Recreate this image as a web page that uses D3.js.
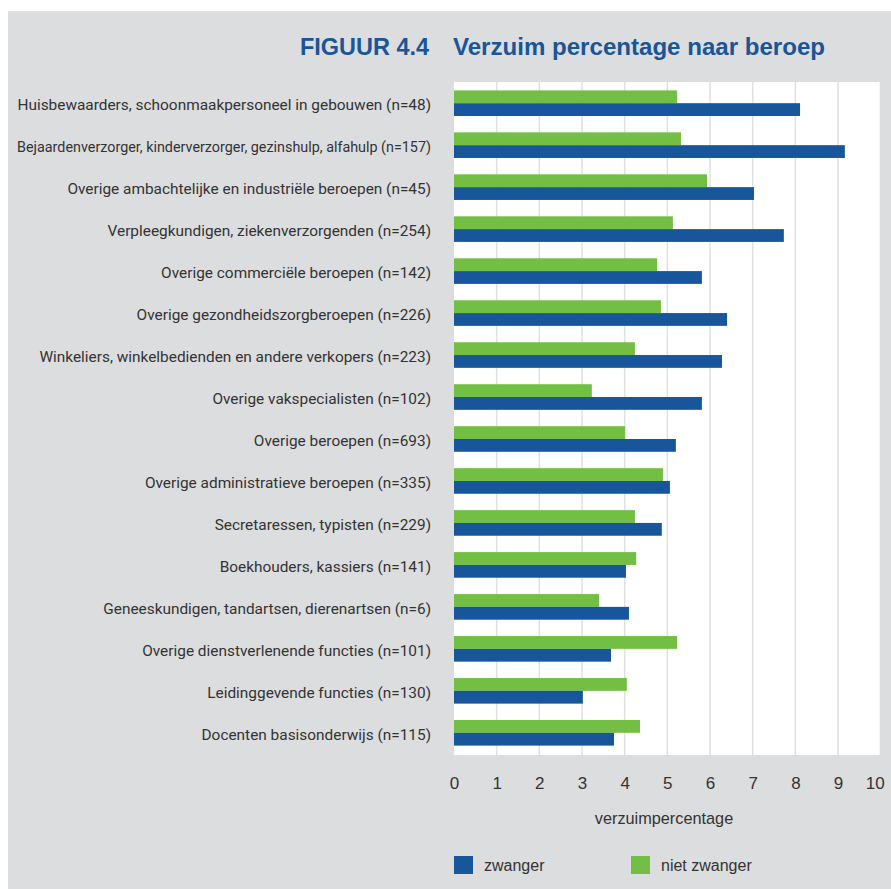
<!DOCTYPE html>
<html>
<head>
<meta charset="utf-8">
<script src="https://cdn.jsdelivr.net/npm/d3@7"></script>
<style>
  html, body { margin: 0; padding: 0; background: #ffffff; }
  svg { display: block; }
</style>
</head>
<body>
<svg id="chart" width="891" height="889"></svg>
<script>
// Occupational groups, top to bottom
const categories = [
  "Huisbewaarders, schoonmaakpersoneel in gebouwen (n=48)",
  "Bejaardenverzorger, kinderverzorger, gezinshulp, alfahulp (n=157)",
  "Overige ambachtelijke en industriële beroepen (n=45)",
  "Verpleegkundigen, ziekenverzorgenden (n=254)",
  "Overige commerciële beroepen (n=142)",
  "Overige gezondheidszorgberoepen (n=226)",
  "Winkeliers, winkelbedienden en andere verkopers (n=223)",
  "Overige vakspecialisten (n=102)",
  "Overige beroepen (n=693)",
  "Overige administratieve beroepen (n=335)",
  "Secretaressen, typisten (n=229)",
  "Boekhouders, kassiers (n=141)",
  "Geneeskundigen, tandartsen, dierenartsen (n=6)",
  "Overige dienstverlenende functies (n=101)",
  "Leidinggevende functies (n=130)",
  "Docenten basisonderwijs (n=115)"
];

// Absence percentage, pregnant employees
const zwanger = [8.11, 9.16, 7.03, 7.73, 5.81, 6.40, 6.28, 5.81,
                 5.20, 5.06, 4.87, 4.03, 4.10, 3.68, 3.02, 3.75];

// Absence percentage, non-pregnant employees
const nietZwanger = [5.23, 5.32, 5.93, 5.13, 4.76, 4.85, 4.24, 3.23,
                     4.01, 4.90, 4.24, 4.27, 3.40, 5.23, 4.05, 4.36];

const xTicks = [0, 1, 2, 3, 4, 5, 6, 7, 8, 9, 10];
const seriesNames = ["niet zwanger", "zwanger"];
const legendItems = ["zwanger", "niet zwanger"];

const titleNumber = "FIGUUR 4.4";
const titleText = "Verzuim percentage naar beroep";
const xAxisTitle = "verzuimpercentage";

const colors = { "zwanger": "#17569a", "niet zwanger": "#72bf44" };

const svg = d3.select("#chart");
const W = 891, H = 889;

// panel background
svg.append("rect")
  .attr("x", 8).attr("y", 11)
  .attr("width", W - 8).attr("height", H - 11)
  .attr("fill", "#dcdddf");

// title: figure number and caption, fitted to their set widths
const titleFont = "'Liberation Sans', Arial, sans-serif";
svg.append("text")
  .attr("x", 300).attr("y", 54.5)
  .attr("font-family", titleFont)
  .attr("font-weight", "bold")
  .attr("font-size", 23)
  .attr("fill", "#1a5596")
  .attr("textLength", 129)
  .attr("lengthAdjust", "spacingAndGlyphs")
  .text(titleNumber);
svg.append("text")
  .attr("x", 453).attr("y", 54.5)
  .attr("font-family", titleFont)
  .attr("font-weight", "bold")
  .attr("font-size", 23)
  .attr("fill", "#1a5596")
  .attr("textLength", 372)
  .attr("lengthAdjust", "spacingAndGlyphs")
  .text(titleText);

const plot = { left: 454, right: 880.7, top: 82, bottom: 755 };

const x = d3.scaleLinear().domain([0, 10]).range([plot.left, plot.right]);

const y = d3.scaleBand()
  .domain(categories)
  .range([plot.top, plot.bottom - 1])
  .paddingInner(0.39)
  .paddingOuter(0.2);

const ySub = d3.scaleBand()
  .domain(seriesNames)
  .range([0, y.bandwidth()]);

// plot area
svg.append("rect")
  .attr("x", plot.left).attr("y", plot.top)
  .attr("width", x(10) - plot.left - 1).attr("height", plot.bottom - plot.top)
  .attr("fill", "#ffffff");

// vertical gridlines
svg.append("g")
  .selectAll("line")
  .data(xTicks.filter(d => d > 0 && d < 10))
  .join("line")
  .attr("x1", d => x(d)).attr("x2", d => x(d))
  .attr("y1", plot.top).attr("y2", plot.bottom)
  .attr("stroke", "#e0e0e0")
  .attr("stroke-width", 1.5);

// bars
const rows = categories.map((c, i) => ({
  cat: c,
  values: [
    { key: "niet zwanger", value: nietZwanger[i] },
    { key: "zwanger", value: zwanger[i] }
  ]
}));

const groups = svg.append("g")
  .selectAll("g")
  .data(rows)
  .join("g")
  .attr("transform", d => `translate(0,${y(d.cat)})`);

groups.selectAll("rect")
  .data(d => d.values)
  .join("rect")
  .attr("x", x(0))
  .attr("y", d => ySub(d.key))
  .attr("width", d => x(d.value) - x(0))
  .attr("height", ySub.bandwidth())
  .attr("fill", d => colors[d.key]);

// category labels, squeezed when wider than the label column
const labelRight = 431, labelMaxWidth = 414;
svg.append("g")
  .selectAll("text")
  .data(categories)
  .join("text")
  .attr("x", labelRight)
  .attr("y", d => y(d) + y.bandwidth() / 2 + 1.5)
  .attr("dy", "0.35em")
  .attr("text-anchor", "end")
  .attr("font-family", "Roboto, 'Liberation Sans', sans-serif")
  .attr("font-size", 15.4)
  .attr("fill", "#333333")
  .text(d => d)
  .each(function () {
    if (this.getComputedTextLength() > labelMaxWidth) {
      d3.select(this)
        .attr("textLength", labelMaxWidth)
        .attr("lengthAdjust", "spacingAndGlyphs");
    }
  });

// x axis
const xAxis = d3.axisBottom(x)
  .tickValues(xTicks)
  .tickSize(0)
  .tickPadding(0)
  .tickFormat(d3.format("d"));

const axisG = svg.append("g")
  .attr("transform", `translate(0,${plot.bottom + 22})`)
  .call(xAxis);
axisG.select(".domain").remove();
axisG.selectAll("text")
  .attr("font-family", "'Liberation Sans', 'DejaVu Sans', sans-serif")
  .attr("font-size", 17)
  .attr("fill", "#333333")
  .attr("dx", d => d === 10 ? -6 : 0);

// axis title
svg.append("text")
  .attr("x", 664).attr("y", 824)
  .attr("text-anchor", "middle")
  .attr("font-family", "'Liberation Sans', 'DejaVu Sans', sans-serif")
  .attr("font-size", 16.3)
  .attr("fill", "#333333")
  .text(xAxisTitle);

// legend
const legendX = [454, 631];
const legend = svg.append("g")
  .selectAll("g")
  .data(legendItems)
  .join("g")
  .attr("transform", (d, i) => `translate(${legendX[i]},856)`);
legend.append("rect")
  .attr("width", 19).attr("height", 18)
  .attr("fill", d => colors[d]);
legend.append("text")
  .attr("x", 30).attr("y", 9)
  .attr("dy", "0.35em")
  .attr("font-family", "'Liberation Sans', 'DejaVu Sans', sans-serif")
  .attr("font-size", 16)
  .attr("fill", "#333333")
  .text(d => d);
</script>
</body>
</html>
